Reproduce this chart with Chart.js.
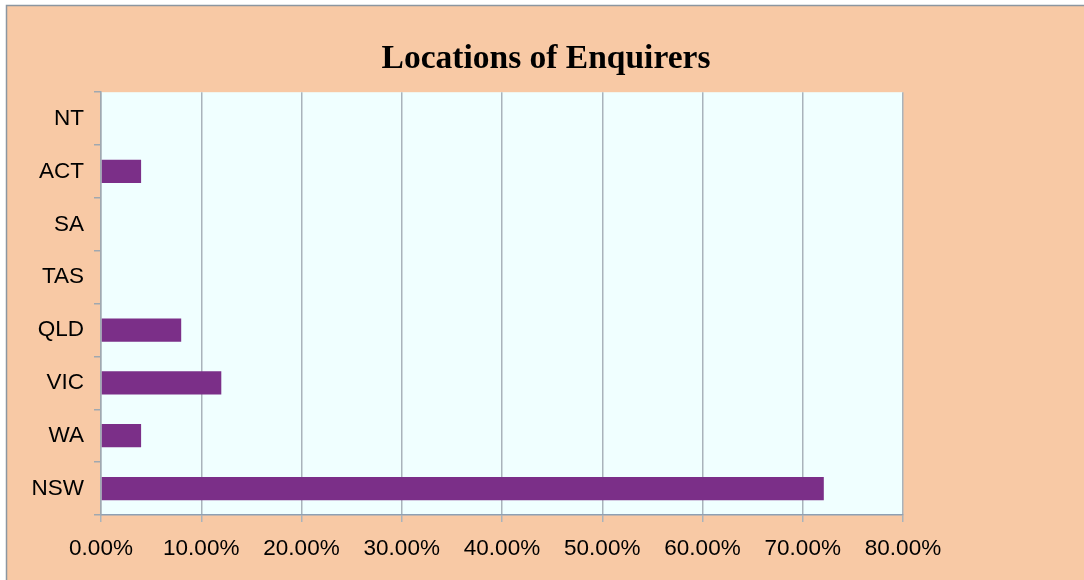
<!DOCTYPE html>
<html>
<head>
<meta charset="utf-8">
<script src="https://cdn.jsdelivr.net/npm/chart.js@4"></script>
<style>
  html, body { margin: 0; padding: 0; background: #ffffff; }
  #wrap { width: 1084px; height: 580px; }
</style>
</head>
<body>
<div id="wrap"><canvas id="barChart" width="1084" height="580"></canvas></div>
<script>
const estados = ["NT", "ACT", "SA", "TAS", "QLD", "VIC", "WA", "NSW"]
const porcentajes = [0, 4, 0, 0, 8, 12, 4, 72.1]
const ticksX = [0, 10, 20, 30, 40, 50, 60, 70, 80]

// fondo naranja, borde gris y area del grafico celeste
const fondoPlugin = {
  id: "fondo",
  beforeDraw(chart) {
    const ctx = chart.ctx
    const a = chart.chartArea
    ctx.save()
    ctx.fillStyle = "#ffffff"
    ctx.fillRect(0, 0, chart.width, chart.height)
    ctx.fillStyle = "#F8C9A5"
    ctx.fillRect(7, 6, chart.width - 7, chart.height - 6)
    ctx.strokeStyle = "#8C96A0"
    ctx.lineWidth = 1.5
    ctx.beginPath()
    ctx.moveTo(6.5, chart.height)
    ctx.lineTo(6.5, 5.5)
    ctx.lineTo(chart.width, 5.5)
    ctx.stroke()
    ctx.fillStyle = "#F0FFFF"
    ctx.fillRect(a.left, a.top, a.right - a.left, a.bottom - a.top)
    ctx.restore()
  }
}

const bChart = document.getElementById("barChart").getContext("2d")
const barChart = new Chart(bChart, {
  type: "bar",
  data: {
    labels: estados,
    datasets: [
      {
        data: porcentajes,
        backgroundColor: "#7B2F88",
        barPercentage: 0.44,
        categoryPercentage: 1,
      },
    ],
  },
  options: {
    indexAxis: "y",
    responsive: false,
    animation: false,
    layout: { padding: { left: 8, right: 0, top: 0, bottom: 0 } },
    plugins: {
      legend: { display: false },
      tooltip: { enabled: false },
      title: {
        display: true,
        text: "Locations of Enquirers",
        color: "#000000",
        font: { family: "'Liberation Serif', 'Times New Roman', serif", size: 33.5, weight: "bold" },
        padding: { top: 39, bottom: 13 },
      },
    },
    scales: {
      x: {
        min: 0,
        max: 80,
        afterBuildTicks(scale) {
          scale.ticks = ticksX.map(v => ({ value: v }))
        },
        afterFit(scale) {
          scale.height = 65
        },
        ticks: {
          color: "#000000",
          font: { family: "'Liberation Sans', Arial, sans-serif", size: 22.5 },
          padding: 13,
          maxRotation: 0,
          callback: v => v.toFixed(2) + "%",
        },
        grid: {
          color: "#A9B3BB",
          lineWidth: 1.5,
          tickLength: 7,
        },
        border: { color: "#8EA0B4", width: 1.5 },
      },
      y: {
        afterFit(scale) {
          scale.width = 93
        },
        ticks: {
          color: "#000000",
          font: { family: "'Liberation Sans', Arial, sans-serif", size: 22.5 },
          padding: 10,
        },
        grid: {
          drawOnChartArea: false,
          color: "#A0A8B0",
          lineWidth: 1.5,
          tickLength: 7,
        },
        border: { color: "#A0A8B0", width: 1.5 },
      },
      // eje vacio a la derecha solo para dejar el espacio naranja
      derecha: {
        type: "linear",
        position: "right",
        display: true,
        ticks: { display: false },
        grid: { display: false, drawTicks: false },
        border: { display: false },
        afterFit(scale) {
          scale.width = 181
        },
      },
    },
  },
  plugins: [fondoPlugin],
})
</script>
</body>
</html>
